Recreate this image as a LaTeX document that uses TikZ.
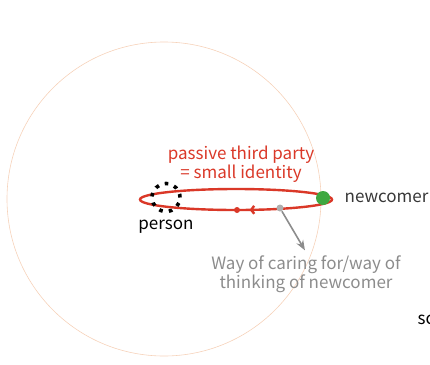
\documentclass[tikz,border=0pt]{standalone}
\usepackage{fontspec}
\setmainfont{Noto Sans CJK JP}
\usetikzlibrary{arrows.meta, shapes.geometric, decorations.markings}

\definecolor{ringorange}{RGB}{246,210,186}
\definecolor{loopred}{RGB}{218,56,40}
\definecolor{newgreen}{RGB}{62,168,64}
\definecolor{notegray}{RGB}{140,140,140}
\definecolor{darktext}{RGB}{55,55,55}

\begin{document}
\begin{tikzpicture}[x=1pt, y=-1pt, >=Stealth, semithick, font=\fontsize{17}{18.5}\selectfont]
		\useasboundingbox (0,0) rectangle (430,364);
		\draw[ringorange, line width=0.6pt] (164,199) circle[radius=157];
		
		\draw[loopred, line width=2.4pt, decoration={markings, mark=at position 0.215 with {\arrow{Straight Barb[length=3pt, width=8pt]}}}, postaction={decorate}]
		(236,199.5) ellipse[x radius=96, y radius=10.5];
		
		\node[circle, fill=newgreen, minimum size=14, inner sep=0] (newcomerdot) at (323,198) {};
		\node[circle, fill=loopred, minimum size=6, inner sep=0] (loopdot) at (237,210) {};
		\node[circle, fill=notegray!70, minimum size=7, inner sep=0] (caredot) at (280,208) {};
		\node[circle, draw=black, line width=3.6pt, dash pattern=on 3.6pt off 6.2pt, minimum size=28, inner sep=0] (persondot) at (166,197.5) {};
		
		\node[text=loopred, align=center] (thirdparty) at (241,164) {passive third party\\= small identity};
		\node[text=darktext, anchor=west] (newcomer) at (341,198) {newcomer};
		\node (person) at (166,227) {person};
		\node[text=notegray, align=center] (way) at (306,274) {Way of caring for/way of\\thinking of newcomer};
		\node[anchor=west] (sc) at (414,320) {sc};
		
		\draw[->, notegray, line width=1.6pt, shorten >=2pt] (caredot) -- (way.north);
	\end{tikzpicture}
\end{document}
